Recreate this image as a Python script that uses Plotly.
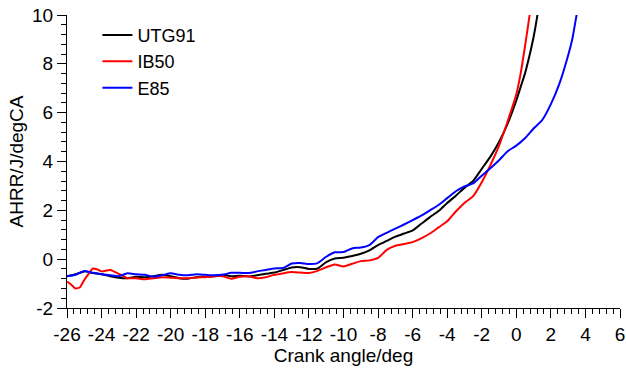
import plotly.graph_objects as go

# Apparent heat release rate vs crank angle for three fuels
utg91_ca = [-26, -25.5, -25, -24.5, -24, -23.5, -23, -22.5, -22, -21.5, -21, -20.5, -20,
            -19.5, -19, -18.5, -18, -17.5, -17, -16.5, -16, -15.5, -15, -14.5, -14, -13.5,
            -13, -12.5, -12, -11.5, -11, -10.5, -10, -9.5, -9, -8.5, -8, -7.5, -7, -6.5,
            -6, -5.5, -5, -4.5, -4, -3.5, -3, -2.5, -2, -1.5, -1, -0.5, 0, 0.25, 0.5,
            0.75, 1.0, 1.2, 1.3]
utg91_hrr = [-0.70, -0.62, -0.50, -0.57, -0.62, -0.70, -0.76, -0.78, -0.72, -0.74, -0.70,
             -0.64, -0.70, -0.78, -0.80, -0.74, -0.72, -0.70, -0.64, -0.70, -0.68, -0.71,
             -0.66, -0.60, -0.55, -0.45, -0.34, -0.33, -0.40, -0.38, -0.12, 0.03, 0.06,
             0.13, 0.22, 0.36, 0.58, 0.75, 0.92, 1.05, 1.18, 1.45, 1.72, 1.97, 2.30, 2.60,
             2.92, 3.20, 3.70, 4.20, 4.80, 5.55, 6.50, 7.05, 7.60, 8.30, 9.10, 9.90, 10.4]

ib50_ca = [-26, -25.75, -25.5, -25.25, -25, -24.75, -24.5, -24.25, -24, -23.5, -23, -22.5,
           -22, -21.5, -21, -20.5, -20, -19.5, -19, -18.5, -18, -17.5, -17, -16.5, -16,
           -15.5, -15, -14.5, -14, -13.5, -13, -12.5, -12, -11.5, -11, -10.5, -10, -9.5,
           -9, -8.5, -8, -7.5, -7, -6.5, -6, -5.5, -5, -4.5, -4, -3.5, -3, -2.5, -2, -1.5,
           -1, -0.5, 0, 0.25, 0.5, 0.75, 0.85]
ib50_hrr = [-0.92, -1.05, -1.20, -1.15, -0.85, -0.60, -0.38, -0.42, -0.50, -0.44, -0.60,
            -0.78, -0.78, -0.82, -0.78, -0.74, -0.76, -0.78, -0.78, -0.75, -0.74, -0.70,
            -0.70, -0.80, -0.72, -0.70, -0.78, -0.74, -0.64, -0.58, -0.53, -0.55, -0.57,
            -0.48, -0.33, -0.22, -0.30, -0.19, -0.08, -0.05, 0.05, 0.38, 0.55, 0.62, 0.70,
            0.85, 1.05, 1.30, 1.55, 1.95, 2.30, 2.58, 3.15, 3.85, 4.65, 5.65, 6.75, 7.60,
            8.70, 9.90, 10.4]

e85_ca = [-26, -25.5, -25, -24.5, -24, -23.5, -23, -22.5, -22, -21.5, -21, -20.5, -20,
          -19.5, -19, -18.5, -18, -17.5, -17, -16.5, -16, -15.5, -15, -14.5, -14, -13.5,
          -13, -12.5, -12, -11.5, -11, -10.5, -10, -9.5, -9, -8.5, -8, -7.5, -7, -6.5, -6,
          -5.5, -5, -4.5, -4, -3.5, -3, -2.5, -2, -1.5, -1, -0.5, 0, 0.5, 1, 1.5, 2, 2.5,
          3, 3.25, 3.5, 3.6]
e85_hrr = [-0.70, -0.64, -0.48, -0.56, -0.62, -0.66, -0.70, -0.58, -0.62, -0.64, -0.72,
           -0.66, -0.58, -0.64, -0.66, -0.62, -0.64, -0.66, -0.64, -0.56, -0.56, -0.57,
           -0.50, -0.44, -0.38, -0.36, -0.18, -0.16, -0.20, -0.16, 0.10, 0.28, 0.29, 0.44,
           0.48, 0.58, 0.90, 1.08, 1.25, 1.42, 1.60, 1.78, 2.00, 2.22, 2.50, 2.78, 2.98,
           3.10, 3.42, 3.72, 4.05, 4.42, 4.65, 4.95, 5.35, 5.70, 6.35, 7.20, 8.35, 9.05,
           10.05, 10.4]

# Axis ticks (labels written with a plain hyphen for negatives)
x_ticks = list(range(-26, 7, 2))
x_tick_labels = [str(v) for v in x_ticks]
y_ticks = list(range(-2, 11, 2))
y_tick_labels = [str(v) for v in y_ticks]

series = [
    ("UTG91", utg91_ca, utg91_hrr, "#000000"),
    ("IB50", ib50_ca, ib50_hrr, "#ff0000"),
    ("E85", e85_ca, e85_hrr, "#0000ff"),
]

fig = go.Figure()
for name, ca, hrr, color in series:
    fig.add_trace(go.Scatter(x=ca, y=hrr, name=name, mode="lines",
                             line=dict(color=color, width=2, shape="spline", smoothing=0.6)))

font = dict(family="Liberation Sans, Arial, sans-serif", size=19, color="black")
legend_font = dict(family="Liberation Sans, Arial, sans-serif", size=18, color="black")
axis_common = dict(
    showline=True, linecolor="black", linewidth=1,
    ticks="outside", ticklen=9, tickwidth=1, tickcolor="black",
    showgrid=False, zeroline=False, tickangle=0, tickmode="array",
    automargin=False,
    minor=dict(dtick=0.4, tick0=0, ticks="outside", ticklen=5, tickcolor="black", tickwidth=1),
    tickfont=font,
)

fig.update_layout(
    width=626, height=370,
    margin=dict(l=67, r=6, t=15, b=62),
    paper_bgcolor="white", plot_bgcolor="white",
    font=font,
    showlegend=True,
    legend=dict(x=0.055, y=0.994, xanchor="left", yanchor="top",
                bgcolor="rgba(0,0,0,0)", font=legend_font, tracegroupgap=0),
    xaxis=dict(range=[-26, 6], tickvals=x_ticks, ticktext=x_tick_labels,
               title=dict(text="Crank angle/deg", font=font, standoff=3),
               **axis_common),
    yaxis=dict(range=[-2, 10], tickvals=y_ticks, ticktext=y_tick_labels,
               title=dict(text="AHRR/J/degCA", font=font, standoff=3),
               **axis_common),
)

fig.write_html("out.html")
